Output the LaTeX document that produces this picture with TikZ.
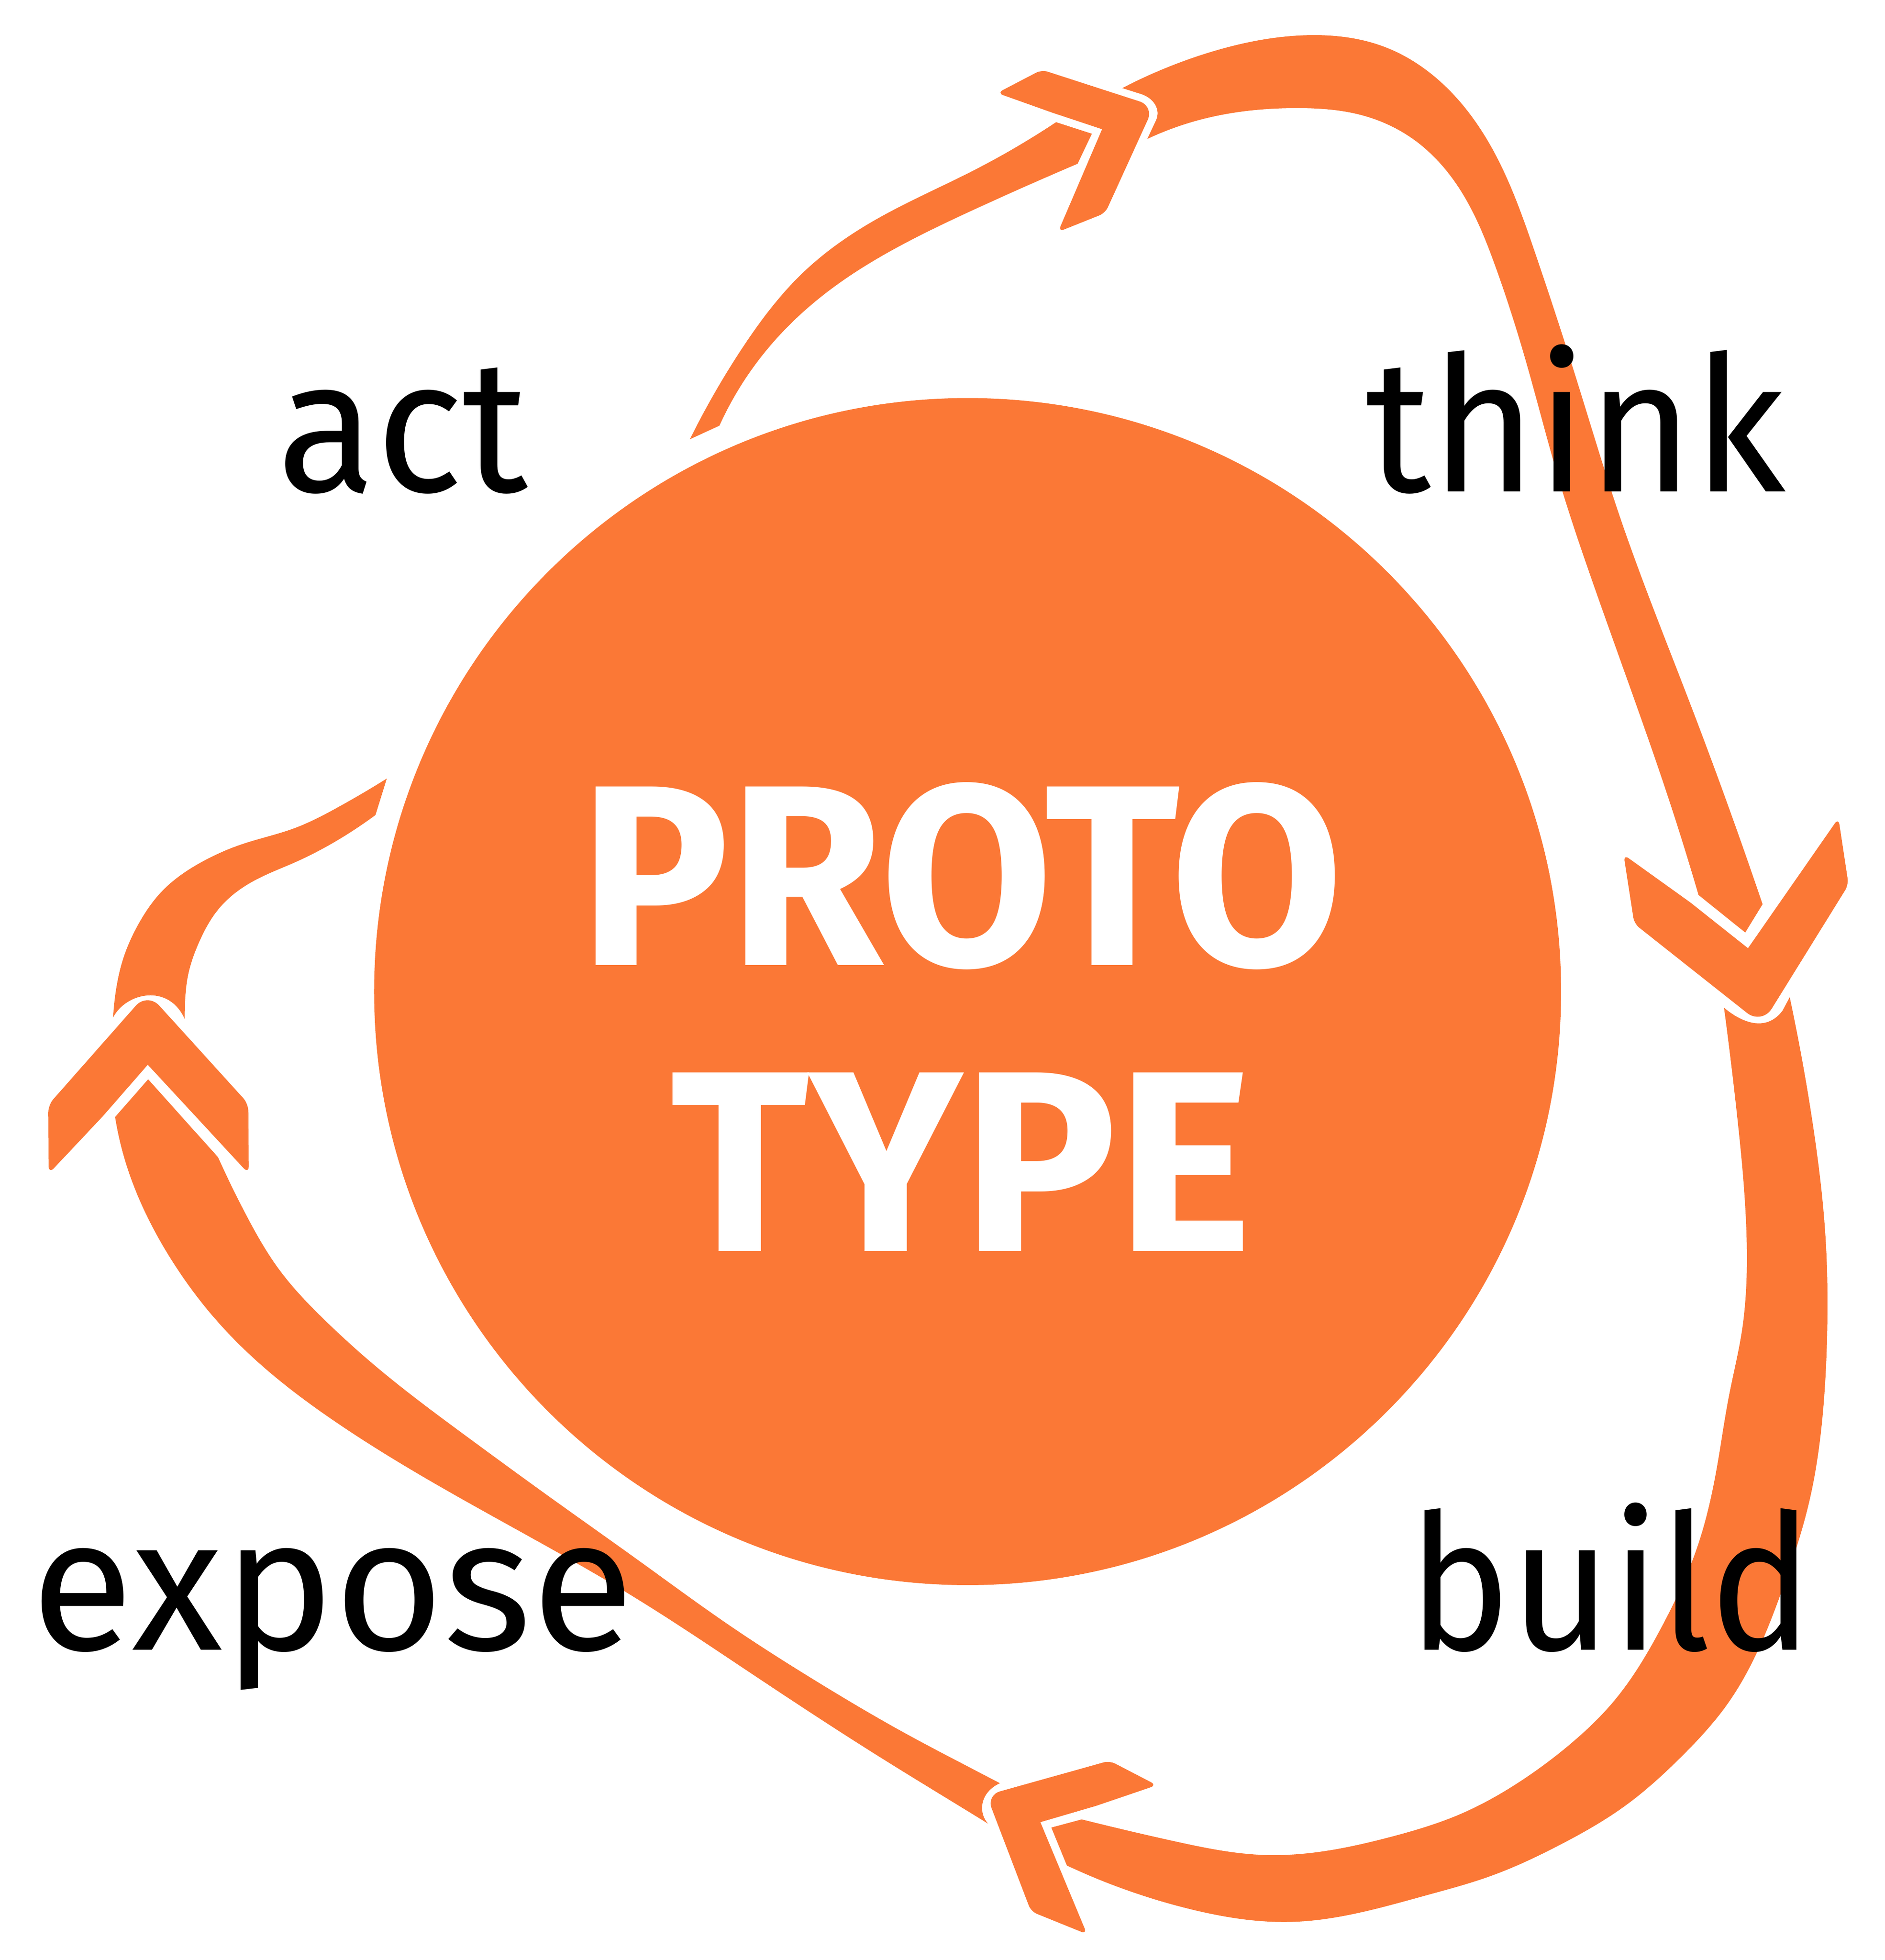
\documentclass[tikz,border=0pt]{standalone}
\usepackage{fontspec}
\setmainfont{Fira Sans}
\usetikzlibrary{hobby}
\definecolor{protoorange}{RGB}{251,120,54}
\begin{document}
\begin{tikzpicture}[x=0.01cm,y=-0.01cm]
\tikzset{
  band/.style={fill=protoorange},
  chev/.style={fill=protoorange},
  lbl/.style={anchor=base west, inner sep=0pt, text=black, font=\fontsize{42.7}{50}\selectfont},
  ttl/.style={anchor=base, inner sep=0pt, text=white, font=\fontsize{58.3}{70}\selectfont\bfseries},
}
\useasboundingbox (0,0) rectangle (1500,1559.6);
% central disc
\node[circle, fill=protoorange, minimum size=9.44cm, inner sep=0pt] (core) at (770,789) {};

% S1: tail, act -> think
\fill[band] (549,349.5) to[curve through={(590,278) .. (640,216) .. (700,173) .. (774,136)}] (840.4,97.2)
  -- (868.9,106.4) -- (857.5,130.3)
  to[curve through={(774.6,167) .. (710,199) .. (660,231) .. (608,281)}] (572.5,338.7) -- cycle;

% S2: think -> build
\fill[band] (893.1,70.1) to[curve through={(960.8,42.2) .. (1040,28) .. (1101,37) .. (1138.7,58.6) .. (1188.7,120.5) .. (1220.8,198.9) .. (1256.5,308.2) .. (1288.6,409.9) .. (1345,560)}] (1402.6,719.5)
  -- (1388.8,742.0) -- (1351.6,712.1)
  to[curve through={(1327,633) .. (1300,555) .. (1268,465) .. (1240,380) .. (1215,290) .. (1190,212) .. (1160,148) .. (1125,111) .. (1085,92) .. (1032,86) .. (960,94)}] (913,110.5)
  -- (919.8,96) .. controls (924,87) and (918,78) .. (908,74.8) -- cycle;

% S3: build -> expose
\fill[band] (1371.9,801.8) .. controls (1385,813) and (1405,822) .. (1418.4,804.3) -- (1424.2,793.5)
  to[curve through={(1442.5,894) .. (1453,990) .. (1454,1060) .. (1450.5,1125) .. (1440.3,1192.4) .. (1420.2,1259.3) .. (1401.5,1307.5) .. (1374.7,1355.8) .. (1337.2,1398.6) .. (1294.3,1436.1) .. (1240.7,1468.3) .. (1187.2,1492.4) .. (1133.6,1508.5) .. (1029.4,1529.2) .. (945.9,1518.8)}] (849.0,1484.4)
  -- (836.6,1454.2) -- (860.8,1447.7)
  to[curve through={(934.2,1465) .. (1005.6,1476) .. (1060,1472) .. (1106.8,1461.6) .. (1160.4,1444.2) .. (1213.9,1414.7) .. (1254.1,1383.9) .. (1283.6,1354.4) .. (1321.1,1296.8) .. (1351.9,1227.2) .. (1366.6,1165.6) .. (1376,1110) .. (1386,1060) .. (1390,990) .. (1383,894)}] (1371.9,801.8) -- cycle;

% S4: expose -> act
\fill[band] (795.7,1418.9) .. controls (780,1426) and (778,1442) .. (786.3,1451.1)
  to[curve through={(767.1,1439.3) .. (700,1398) .. (600,1333) .. (500,1268) .. (420,1222) .. (340,1177) .. (265,1130) .. (210,1088) .. (170,1048) .. (140,1008) .. (117.3,968.3) .. (100,925)}] (91.6,888.8)
  -- (117.9,858.8) -- (173.5,920.8)
  to[curve through={(196.7,968.3) .. (222,1010) .. (258,1050) .. (300,1088) .. (370,1142) .. (440,1193) .. (510,1243) .. (580,1293) .. (650,1338) .. (720,1379) .. (767.1,1404)}] (795.7,1418.9) -- cycle;

% S5: tail end near act
\fill[band] (90,809.6) .. controls (100,790) and (134,782) .. (147,810.8)
  to[curve through={(147.5,792.9) .. (149.6,776.3) .. (158.2,750.2) .. (175.3,721.7) .. (203.1,700.3) .. (235.1,686.0) .. (267.2,669.4)}] (298.8,648.5)
  -- (307.8,619.5)
  to[curve through={(267.2,643.3) .. (235.1,658.7) .. (192.4,671.8) .. (160.3,686.0) .. (128.3,709.8) .. (111.2,733.5) .. (98.3,762.0) .. (91.9,790.5)}] (90,809.6) -- cycle;

% chevron heads
% C1 (top, pointing right)
\fill[chev] (837,89.5) [rounded corners=0.05cm] -- (793.5,74) -- (829,55.5) [rounded corners=0.12cm] -- (918.3,84.4) [rounded corners=0.05cm] -- (879.5,169.5) -- (842,184.5) [sharp corners] -- (877,102.8) -- cycle;
% C2 (right, pointing down)
\fill[chev] (1345,718) [rounded corners=0.05cm] -- (1292,680) -- (1300.5,735) [rounded corners=0.15cm] -- (1402,815.3) [rounded corners=0.05cm] -- (1471,704) -- (1463,651) [sharp corners] -- (1391,754.5) -- cycle;
% C3 (bottom, pointing left)
\fill[chev] (872,1437) [rounded corners=0.05cm] -- (920.5,1420.5) -- (883,1401) [rounded corners=0.11cm] -- (785.1,1428.4) [rounded corners=0.05cm] -- (820.5,1521) -- (865,1539) [sharp corners] -- (827.9,1449.9) -- cycle;
% C4 (left, pointing up)
\fill[chev] (82,888) [rounded corners=0.06cm] -- (38.7,934) -- (38.4,879.2) [rounded corners=0.14cm] -- (117.3,789.8) [rounded corners=0.06cm] -- (197.6,878.2) -- (198,934) [sharp corners] -- (117.6,847.2) -- cycle;

% labels
\node[lbl] (act) at (220,391) {\scalebox{0.96}[1]{act}};
\node[lbl] (think) at (1086,391) {\scalebox{0.957}[1]{think}};
\node[lbl] (build) at (1120,1313) {\scalebox{0.915}[1]{build}};
\node[lbl] (expose) at (24,1313) {\scalebox{0.995}[1]{expose}};
\node[ttl] (proto) at (765,768) {\scalebox{0.97}[1]{PROTO}};
\node[ttl] (type) at (765,995.5) {TYPE};
\end{tikzpicture}
\end{document}
